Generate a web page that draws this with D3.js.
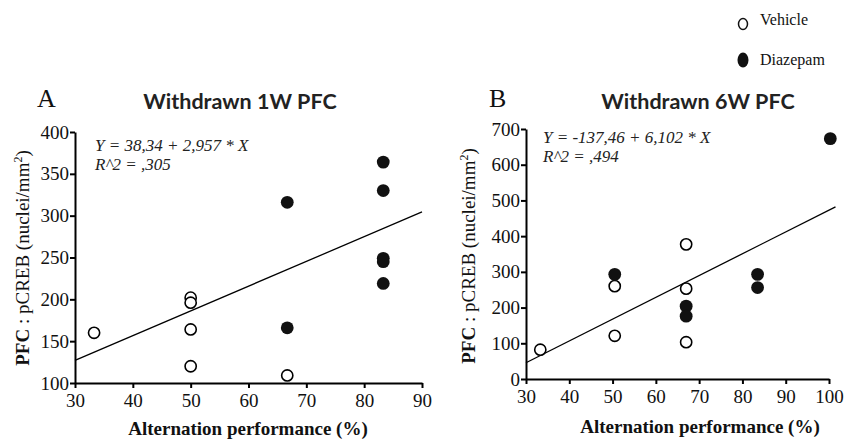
<!DOCTYPE html>
<html>
<head>
<meta charset="utf-8">
<script src="https://cdn.jsdelivr.net/npm/d3@7"></script>
<style>
  body { margin: 0; background: #fff; }
  svg { display: block; }
  .axis path, .axis line { stroke: #000; stroke-width: 2; }
</style>
</head>
<body>
<div id="chart"></div>
<script>
// ---- data ----
// panel A : withdrawn 1W
let vehicleA_x = [33.3, 50, 50, 50, 50, 66.7];
let vehicleA_y = [160, 202, 196, 164, 120, 109];
let diazepamA_x = [66.7, 66.7, 83.3, 83.3, 83.3, 83.3, 83.3];
let diazepamA_y = [316, 166, 364, 330, 249, 245, 219];
let fitA = [38.34, 2.957];
let fitA_range = [30, 90];
let ticksA_x = [30, 40, 50, 60, 70, 80, 90];
let ticksA_y = [100, 150, 200, 250, 300, 350, 400];

// panel B : withdrawn 6W
let vehicleB_x = [33.3, 50.5, 50.5, 67, 67, 67];
let vehicleB_y = [82, 121, 260, 377, 253, 103];
let diazepamB_x = [50.5, 67, 67, 83.5, 83.5, 100.3];
let diazepamB_y = [293, 204, 176, 293, 256, 673];
let fitB = [-137.46, 6.102];
let fitB_range = [30, 101.5];
let ticksB_x = [30, 40, 50, 60, 70, 80, 90, 100];
let ticksB_y = [0, 100, 200, 300, 400, 500, 600, 700];

let serif = '"Liberation Serif", "Times New Roman", serif';

let svg = d3.select("#chart")
  .append("svg")
  .attr("width", 844)
  .attr("height", 442);

function drawPanel(p) {
  let g = svg.append("g");

  let x = d3.scaleLinear().domain(p.xDomain).range(p.xRange);
  let y = d3.scaleLinear().domain(p.yDomain).range(p.yRange);

  // regression line
  g.append("line")
    .attr("x1", x(p.fitRange[0]))
    .attr("x2", x(p.fitRange[1]))
    .attr("y1", y(p.fit[0] + p.fit[1] * p.fitRange[0]))
    .attr("y2", y(p.fit[0] + p.fit[1] * p.fitRange[1]))
    .attr("stroke", "#000")
    .attr("stroke-width", 1.3);

  // axes
  g.append("g").attr("class", "axis")
    .attr("transform", "translate(0," + p.yRange[0] + ")")
    .call(d3.axisBottom(x).tickValues(p.ticksX).tickSize(5).tickSizeOuter(0).tickPadding(6));

  g.append("g").attr("class", "axis")
    .attr("transform", "translate(" + p.xRange[0] + ",0)")
    .call(d3.axisLeft(y).tickValues(p.ticksY).tickSize(5).tickSizeOuter(0).tickPadding(1));

  g.selectAll(".axis text")
    .style("font-family", serif)
    .style("font-size", "19px")
    .style("fill", "#111");

  // points
  let vehicle = p.vx.map(function(d, i) { return [d, p.vy[i]]; });
  let diazepam = p.dx.map(function(d, i) { return [d, p.dy[i]]; });

  g.selectAll(".veh")
    .data(vehicle)
    .enter()
    .append("circle")
      .attr("cx", function(d) { return x(d[0]); })
      .attr("cy", function(d) { return y(d[1]); })
      .attr("r", 5.6)
      .attr("fill", "#fff")
      .attr("stroke", "#000")
      .attr("stroke-width", 1.6);

  g.selectAll(".dia")
    .data(diazepam)
    .enter()
    .append("circle")
      .attr("cx", function(d) { return x(d[0]); })
      .attr("cy", function(d) { return y(d[1]); })
      .attr("r", 6.4)
      .attr("fill", "#111");

  // panel letter and title
  g.append("text")
    .attr("x", p.letterX).attr("y", 107)
    .style("font-family", serif)
    .style("font-size", "26px")
    .attr("fill", "#111")
    .text(p.letter);

  g.append("text")
    .attr("x", p.titleX).attr("y", 109)
    .attr("text-anchor", "middle")
    .style("font-family", "Lato, sans-serif")
    .style("font-weight", "bold")
    .style("font-size", "21.5px")
    .attr("fill", "#222")
    .text(p.title);

  // equation
  let eq = g.append("text")
    .style("font-family", serif)
    .style("font-style", "italic")
    .style("font-size", "17px")
    .attr("fill", "#222");
  eq.append("tspan").attr("x", p.eqX).attr("y", p.eqY).text(p.eq1);
  eq.append("tspan").attr("x", p.eqX).attr("y", p.eqY + 19).text(p.eq2);

  // y label
  let yl = g.append("text")
    .attr("transform", "translate(" + p.ylabX + "," + p.ylabY + ") rotate(-90)")
    .attr("text-anchor", "middle")
    .style("font-family", serif)
    .style("font-size", "19px")
    .attr("fill", "#111");
  yl.append("tspan").style("font-weight", "bold").text("PFC");
  yl.append("tspan").text(" : pCREB (nuclei/mm");
  yl.append("tspan").style("font-size", "12px").attr("dy", -7).text("2");
  yl.append("tspan").attr("dy", 7).text(")");

  // x label
  g.append("text")
    .attr("x", p.xlabX).attr("y", p.xlabY)
    .attr("text-anchor", "middle")
    .style("font-family", serif)
    .style("font-weight", "bold")
    .style("font-size", "19px")
    .attr("fill", "#111")
    .text("Alternation performance (%)");
}

drawPanel({
  xDomain: [30, 90], xRange: [75, 422],
  yDomain: [100, 400], yRange: [383, 132],
  vx: vehicleA_x, vy: vehicleA_y, dx: diazepamA_x, dy: diazepamA_y,
  fit: fitA, fitRange: fitA_range, ticksX: ticksA_x, ticksY: ticksA_y,
  letter: "A", letterX: 37, title: "Withdrawn 1W PFC", titleX: 240,
  eq1: "Y = 38,34 + 2,957 * X", eq2: "R^2 = ,305", eqX: 95, eqY: 151,
  ylabX: 29, ylabY: 258, xlabX: 248, xlabY: 435
});

drawPanel({
  xDomain: [30, 100], xRange: [526, 829],
  yDomain: [0, 700], yRange: [379, 129],
  vx: vehicleB_x, vy: vehicleB_y, dx: diazepamB_x, dy: diazepamB_y,
  fit: fitB, fitRange: fitB_range, ticksX: ticksB_x, ticksY: ticksB_y,
  letter: "B", letterX: 489, title: "Withdrawn 6W PFC", titleX: 698,
  eq1: "Y = -137,46 + 6,102 * X", eq2: "R^2 = ,494", eqX: 543, eqY: 143,
  ylabX: 475, ylabY: 256, xlabX: 700, xlabY: 433
});

// legend
let legendNames = ["Vehicle", "Diazepam"];
let legend = svg.append("g");
legend.selectAll("ellipse")
  .data(legendNames)
  .enter()
  .append("ellipse")
    .attr("cx", 743)
    .attr("cy", function(d, i) { return 24 + i * 36; })
    .attr("rx", function(d, i) { return i === 0 ? 4.5 : 5.5; })
    .attr("ry", function(d, i) { return i === 0 ? 5.5 : 7.5; })
    .attr("fill", function(d, i) { return i === 0 ? "#fff" : "#111"; })
    .attr("stroke", "#111")
    .attr("stroke-width", function(d, i) { return i === 0 ? 1.5 : 0; });
legend.selectAll("text")
  .data(legendNames)
  .enter()
  .append("text")
    .attr("x", 760)
    .attr("y", function(d, i) { return 25 + i * 40; })
    .style("font-family", serif)
    .style("font-size", "16px")
    .attr("fill", "#111")
    .text(function(d) { return d; });
</script>
</body>
</html>
